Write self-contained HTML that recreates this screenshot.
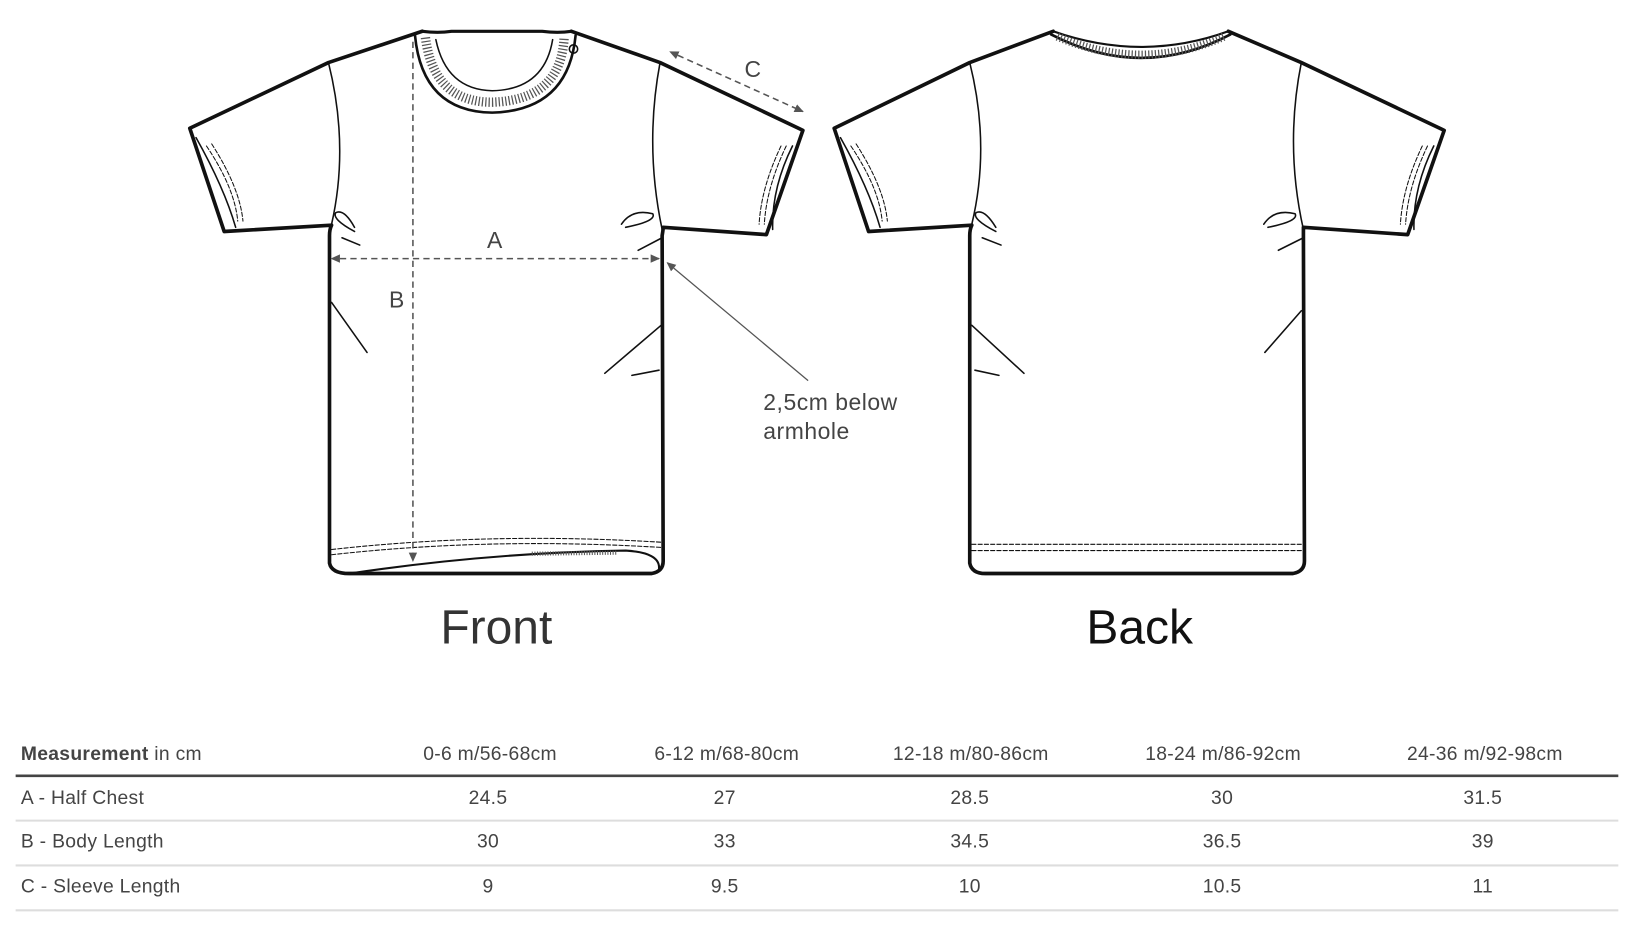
<!DOCTYPE html>
<html><head><meta charset="utf-8"><style>
html,body{margin:0;padding:0;background:#fff;width:1635px;height:927px;overflow:hidden}
svg{display:block}
text{font-family:"Liberation Sans",sans-serif}
</style></head><body>
<svg width="1635" height="927" viewBox="0 0 1568 889" xmlns="http://www.w3.org/2000/svg">
<defs>
<marker id="ah" markerWidth="10" markerHeight="10" refX="8" refY="5" orient="auto" markerUnits="userSpaceOnUse"><path d="M0,1 L9,5 L0,9 Z" fill="#555"/></marker>
<marker id="ahs" markerWidth="10" markerHeight="10" refX="0" refY="5" orient="auto-start-reverse" markerUnits="userSpaceOnUse"><path d="M0,1 L9,5 L0,9 Z" fill="#555"/></marker>
</defs>
<g fill="none" stroke="#111" stroke-linejoin="round" stroke-linecap="round">
<!-- FRONT -->
<path stroke-width="3.5" d="M405,30 L315,60 L182,123 L215,222 L318,216 Q316,220 316,226 L316,540 Q318,550 335,550 L625,550 Q636,548 636,538 L635,226 Q636,220 636,218 L735,225 L770,125 L633,60 L548,30"/>
<path stroke-width="3" d="M405,30 Q420,32 433,30 L520,30 Q535,32 548,30"/>
<path stroke-width="2.5" d="M398,34 Q405,107 472,108 Q545,106 552,34"/>
<path stroke-width="1.5" d="M418,38 Q428,86 472,87 Q522,86 530,38"/>
<path stroke-width="9" stroke="#555" stroke-dasharray="1.2,2" stroke-linecap="butt" d="M408,36 Q416,98 472,98 Q538,96 541,36"/>
<path stroke-width="1.5" d="M315,60 Q335,140 318,215 M633,60 Q618,140 635,220"/>
<path stroke-width="1" stroke-dasharray="4,2" d="M198,140 Q225,180 228,212 M203,138 Q230,180 233,212 M754,140 Q735,180 733,215 M749,140 Q730,180 728,215"/>
<path stroke-width="1.5" d="M188,132 Q215,180 226,218 M760,140 Q740,180 741,220"/>
<path stroke-width="1.5" d="M340,222 Q318,210 322,204 Q330,200 340,218 M596,215 Q606,200 626,205 Q630,212 600,218 M328,228 L345,235 M635,228 L612,240 M318,290 L352,338 M634,312 L580,358 M632,355 L606,360"/>
<path stroke-width="1" stroke-dasharray="4,2" d="M318,527 Q470,510 634,520 M318,532 Q470,515 634,525"/>
<path stroke-width="2" d="M335,550 Q470,530 600,528 Q633,530 632,545"/>
<path stroke-width="4" stroke="#555" stroke-dasharray="1,1.5" stroke-linecap="butt" d="M510,531 L592,530"/>
<circle cx="550" cy="47" r="4" stroke-width="1.5"/>
<!-- BACK -->
<path stroke-width="3.5" d="M1010,30 L930,60 L800,123 L833,222 L932,216 Q930,220 930,226 L930,540 Q932,550 945,550 L1240,550 Q1251,548 1251,538 L1250,226 Q1250,220 1250,218 L1350,225 L1385,125 L1248,60 L1178,30"/>
<path stroke-width="2" d="M1010,30 Q1095,60 1178,30"/>
<path stroke-width="2.5" d="M1008,33 Q1095,78 1180,33"/>
<path stroke-width="8" stroke="#555" stroke-dasharray="1.2,2" stroke-linecap="butt" d="M1014,35 Q1095,70 1174,35"/>
<path stroke-width="1.5" d="M930,60 Q950,140 932,215 M1248,60 Q1232,140 1250,220"/>
<path stroke-width="1" stroke-dasharray="4,2" d="M816,140 Q843,180 846,212 M821,138 Q848,180 851,212 M1369,140 Q1350,180 1348,215 M1364,140 Q1345,180 1343,215"/>
<path stroke-width="1.5" d="M806,132 Q833,180 844,218 M1375,140 Q1355,180 1356,220"/>
<path stroke-width="1.5" d="M955,222 Q932,210 936,204 Q944,200 955,218 M1212,215 Q1222,200 1242,205 Q1246,212 1216,218 M942,228 L960,235 M1250,228 L1226,240 M932,312 L982,358 M935,355 L958,360 M1248,298 L1213,338"/>
<path stroke-width="1" stroke-dasharray="4,2" d="M932,522 L1250,522 M932,528 L1250,528"/>
</g>
<g stroke="#555" stroke-width="1.5" stroke-dasharray="6,4" fill="none">
<line x1="396" y1="40" x2="396" y2="538" marker-end="url(#ah)"/>
<line x1="326" y1="248" x2="632" y2="248" marker-end="url(#ah)" marker-start="url(#ahs)"/>
<line x1="650" y1="53" x2="770" y2="107" marker-end="url(#ah)" marker-start="url(#ahs)"/>
</g>
<line x1="775" y1="365" x2="640" y2="252" stroke="#555" stroke-width="1.2" marker-end="url(#ah)"/>
<g fill="#444" font-size="22">
<text x="467" y="238">A</text>
<text x="373" y="295">B</text>
<text x="714" y="74">C</text>
<text x="732" y="393" letter-spacing="0.5">2,5cm below</text>
<text x="732" y="421" letter-spacing="0.5">armhole</text>
</g>
<text x="476" y="617" font-size="46" fill="#333" text-anchor="middle">Front</text>
<text x="1093" y="617" font-size="46" fill="#111" text-anchor="middle">Back</text>
<g font-size="18.5" fill="#444" letter-spacing="0.3">
<text x="20" y="729"><tspan font-weight="bold">Measurement</tspan> in cm</text>
<g text-anchor="middle">
<text x="470" y="729">0-6 m/56-68cm</text>
<text x="697" y="729">6-12 m/68-80cm</text>
<text x="931" y="729">12-18 m/80-86cm</text>
<text x="1173" y="729">18-24 m/86-92cm</text>
<text x="1424" y="729">24-36 m/92-98cm</text>
<text x="468" y="771">24.5</text><text x="695" y="771">27</text><text x="930" y="771">28.5</text><text x="1172" y="771">30</text><text x="1422" y="771">31.5</text>
<text x="468" y="813">30</text><text x="695" y="813">33</text><text x="930" y="813">34.5</text><text x="1172" y="813">36.5</text><text x="1422" y="813">39</text>
<text x="468" y="856">9</text><text x="695" y="856">9.5</text><text x="930" y="856">10</text><text x="1172" y="856">10.5</text><text x="1422" y="856">11</text>
</g>
<text x="20" y="771">A - Half Chest</text>
<text x="20" y="813">B - Body Length</text>
<text x="20" y="856">C - Sleeve Length</text>
</g>
<line x1="15" y1="744" x2="1552" y2="744" stroke="#444" stroke-width="2.5"/>
<g stroke="#ddd" stroke-width="2">
<line x1="15" y1="787" x2="1552" y2="787"/>
<line x1="15" y1="830" x2="1552" y2="830"/>
<line x1="15" y1="873" x2="1552" y2="873"/>
</g>
</svg>
</body></html>
